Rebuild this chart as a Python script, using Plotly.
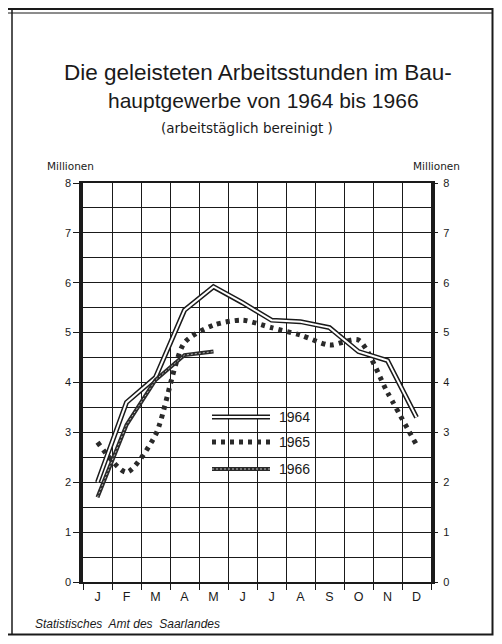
import plotly.graph_objects as go

months = ["J", "F", "M", "A", "M", "J", "J", "A", "S", "O", "N", "D"]
month_pos = list(range(1, 13))
v1964 = [2.0, 3.6, 4.1, 5.45, 5.92, 5.6, 5.25, 5.22, 5.1, 4.62, 4.44, 3.3]
v1965 = [2.8, 2.2, 2.95, 4.8, 5.15, 5.25, 5.1, 4.95, 4.75, 4.85, 3.8, 2.75]
v1966 = [1.7, 3.15, 4.05, 4.55, 4.62]
y_ticks = [0, 1, 2, 3, 4, 5, 6, 7, 8]

# page body has an 8px margin; keep the page from overflowing the window
O = 8
W, H = 502 - 2 * O, 644 - 2 * O
L, R, T, B = 83, 431, 183, 582


def px(xp):
    return (xp - L) / (R - L)


def py(yp):
    return (B - yp) / (B - T)


FONT = "Liberation Sans"
INK = "#1a1a1a"
DOT = dict(color="#2a2a2a", width=5, dash="4px,5px")

fig = go.Figure()

# 1965 dotted
fig.add_trace(go.Scatter(x=month_pos, y=v1965, mode="lines",
                         line=dict(**DOT, shape="spline", smoothing=0.7),
                         showlegend=False, hoverinfo="skip"))
# 1964 double line
fig.add_trace(go.Scatter(x=month_pos, y=v1964, mode="lines",
                         line=dict(color=INK, width=5), showlegend=False))
fig.add_trace(go.Scatter(x=month_pos, y=v1964, mode="lines",
                         line=dict(color="white", width=2), showlegend=False))
# 1966 hatched
fig.add_trace(go.Scatter(x=month_pos[:len(v1966)], y=v1966, mode="lines",
                         line=dict(color="#2a2a2a", width=4), showlegend=False))
fig.add_trace(go.Scatter(x=month_pos[:len(v1966)], y=v1966, mode="lines",
                         line=dict(color="#bbbbbb", width=1, dash="2px,2px"),
                         showlegend=False))
# right axis dummy
fig.add_trace(go.Scatter(x=[1], y=[0], yaxis="y2", mode="markers",
                         marker=dict(opacity=0), showlegend=False, hoverinfo="skip"))

fig.update_layout(
    width=W, height=H,
    margin=dict(l=L - O, r=W - (R - O), t=T - O, b=H - (B - O)),
    paper_bgcolor="white", plot_bgcolor="white",
    showlegend=False,
    font=dict(family=FONT, color=INK),
    xaxis=dict(range=[0.5, 12.5], tickmode="array", tickvals=month_pos, ticktext=months,
               showgrid=False, zeroline=False, ticks="", ticklabelstandoff=2,
               tickfont=dict(size=12.5, family=FONT, color=INK),
               showline=True, linecolor=INK, linewidth=1.5, mirror=True,
               minor=dict(tickmode="linear", tick0=0.5, dtick=1, showgrid=True,
                          gridcolor=INK, gridwidth=1.4, ticks="outside",
                          ticklen=6, tickcolor=INK, tickwidth=1.4)),
    yaxis=dict(range=[0, 8], tickmode="array", tickvals=y_ticks,
               showgrid=True, gridcolor=INK, gridwidth=1.4, zeroline=False,
               ticks="outside", ticklen=6, tickcolor=INK, tickwidth=1.4,
               tickfont=dict(size=11, family=FONT, color=INK),
               showline=True, linecolor=INK, linewidth=3.5, mirror=True,
               minor=dict(tickmode="linear", tick0=0.5, dtick=1, showgrid=True,
                          gridcolor=INK, gridwidth=1.4)),
    yaxis2=dict(range=[0, 8], overlaying="y", side="right", tickmode="array",
                tickvals=y_ticks, showgrid=False, zeroline=False,
                ticks="outside", ticklen=6, tickcolor=INK, tickwidth=1.4,
                ticklabelstandoff=3,
                tickfont=dict(size=11, family=FONT, color=INK)),
)

shapes = []
# outer frame
shapes.append(dict(type="rect", xref="paper", yref="paper",
                   x0=px(6), x1=px(492.5), y0=py(9), y1=py(634.5),
                   line=dict(color=INK, width=2), layer="above"))
shapes.append(dict(type="line", xref="paper", yref="paper",
                   x0=px(12), x1=px(12), y0=py(9), y1=py(634.5),
                   line=dict(color=INK, width=1.5), layer="above"))
shapes.append(dict(type="line", xref="paper", yref="paper",
                   x0=px(6), x1=px(492.5), y0=py(13), y1=py(13),
                   line=dict(color=INK, width=1), layer="above"))
# legend box
shapes.append(dict(type="rect", xref="paper", yref="paper",
                   x0=px(199), x1=px(314), y0=py(404), y1=py(480),
                   fillcolor="white", line=dict(width=0), layer="between"))
# legend samples
ly = [417, 442, 469]
shapes.append(dict(type="line", xref="paper", yref="paper",
                   x0=px(212), x1=px(270), y0=py(ly[0]), y1=py(ly[0]),
                   line=dict(color=INK, width=5), layer="above"))
shapes.append(dict(type="line", xref="paper", yref="paper",
                   x0=px(212), x1=px(270), y0=py(ly[0]), y1=py(ly[0]),
                   line=dict(color="white", width=2), layer="above"))
shapes.append(dict(type="line", xref="paper", yref="paper",
                   x0=px(212), x1=px(274), y0=py(ly[1]), y1=py(ly[1]),
                   line=DOT, layer="above"))
shapes.append(dict(type="line", xref="paper", yref="paper",
                   x0=px(212), x1=px(270), y0=py(ly[2]), y1=py(ly[2]),
                   line=dict(color="#2a2a2a", width=4), layer="above"))
shapes.append(dict(type="line", xref="paper", yref="paper",
                   x0=px(212), x1=px(270), y0=py(ly[2]), y1=py(ly[2]),
                   line=dict(color="#bbbbbb", width=1, dash="2px,2px"), layer="above"))
fig.update_layout(shapes=shapes)

ann = []
def txt(s, x, y, size, xanchor="center", italic=False, family=FONT):
    ann.append(dict(text=s, xref="paper", yref="paper", x=px(x), y=py(y),
                    xanchor=xanchor, yanchor="middle", showarrow=False,
                    font=dict(size=size, family=family, color=INK,
                              style="italic" if italic else "normal")))

txt("Die geleisteten Arbeitsstunden im Bau-", 258, 73, 22.5)
txt("hauptgewerbe von 1964 bis 1966", 263, 101, 21)
txt("(arbeitstäglich bereinigt )", 247, 128, 13.5, family="DejaVu Sans")
txt("Millionen", 45, 166, 10.5, xanchor="left", family="DejaVu Sans")
txt("Millionen", 411, 166, 10.5, xanchor="left", family="DejaVu Sans")
for label, yy in zip(["1964", "1965", "1966"], ly):
    txt(label, 277, yy, 14, xanchor="left")
txt("Statistisches  Amt des  Saarlandes", 33, 624, 12, xanchor="left", italic=True)
fig.update_layout(annotations=ann)

fig.write_html("out.html")
